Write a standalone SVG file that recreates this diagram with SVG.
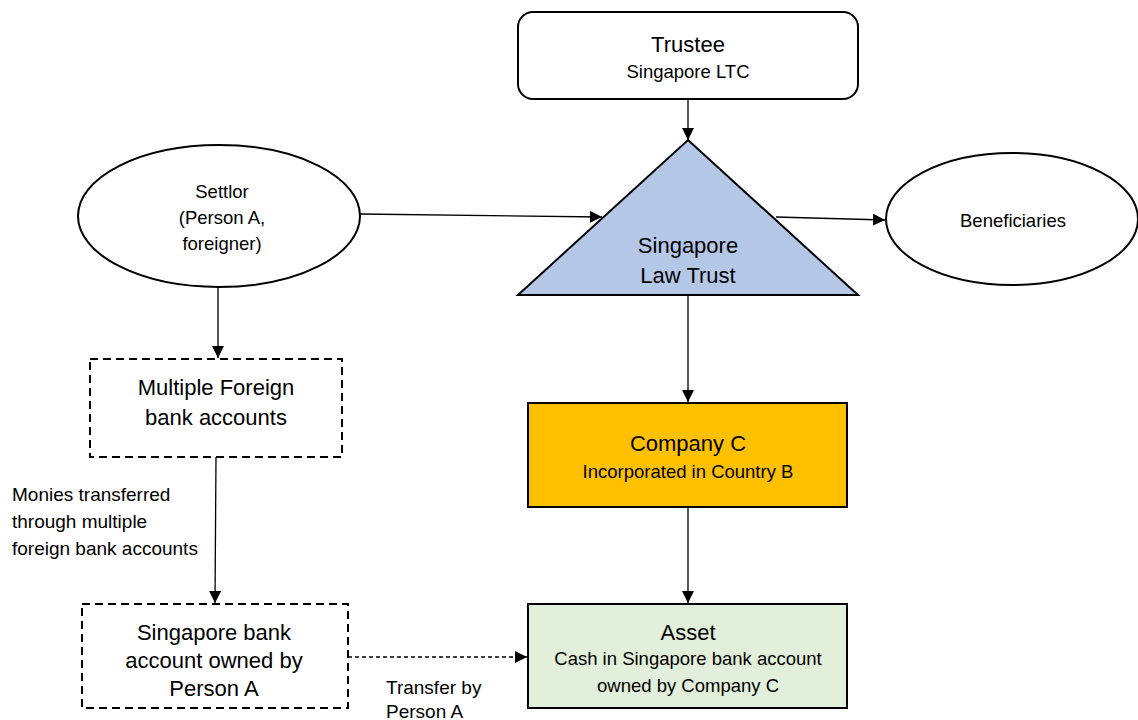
<svg xmlns="http://www.w3.org/2000/svg" width="1138" height="720" viewBox="0 0 1138 720">
<defs>
<marker id="ah" viewBox="0 0 10 10" refX="10" refY="5" markerWidth="12" markerHeight="12" markerUnits="userSpaceOnUse" orient="auto">
<path d="M0,0 L10,5 L0,10 z" fill="#000"/>
</marker>
<style>
text{font-family:"Liberation Sans",Arial,sans-serif;fill:#000;text-anchor:middle}
.big{font-size:22px}
.sm{font-size:18.5px}
.lbl{font-size:19px;text-anchor:start}
.node{stroke:#000;stroke-width:2}
.dash{fill:#fff;stroke:#000;stroke-width:2;stroke-dasharray:8 5}
.conn{stroke:#000;stroke-width:1.3;fill:none;marker-end:url(#ah)}
</style>
</defs>
<rect width="1138" height="720" fill="#fff"/>
<g id="connectors">
<line class="conn" x1="688" y1="99" x2="688" y2="140"/>
<line class="conn" x1="360" y1="214" x2="602" y2="217"/>
<line class="conn" x1="776" y1="217" x2="885" y2="220"/>
<line class="conn" x1="218" y1="287" x2="218" y2="358"/>
<line class="conn" x1="216" y1="457" x2="215" y2="603"/>
<line class="conn" x1="688" y1="295" x2="688" y2="402"/>
<line class="conn" x1="688" y1="507" x2="688" y2="603"/>
<line class="conn" x1="348" y1="657" x2="527" y2="657" stroke-dasharray="4 3"/>
</g>
<g id="trustee">
<rect class="node" x="518" y="12" width="340" height="87" rx="15" fill="#fff"/>
<text class="big" x="688" y="52">Trustee</text>
<text class="sm" x="688" y="78">Singapore LTC</text>
</g>
<g id="trust">
<polygon class="node" points="688,140 858,295 518,295" fill="#B4C7E7"/>
<text class="big" x="688" y="253">Singapore</text>
<text class="big" x="688" y="283">Law Trust</text>
</g>
<g id="settlor">
<ellipse class="node" cx="219" cy="216" rx="141" ry="71" fill="#fff"/>
<text class="sm" x="222" y="198">Settlor</text>
<text class="sm" x="222" y="224">(Person A,</text>
<text class="sm" x="222" y="250">foreigner)</text>
</g>
<g id="beneficiaries">
<ellipse class="node" cx="1012" cy="219" rx="126" ry="66" fill="#fff"/>
<text class="sm" x="1013" y="227">Beneficiaries</text>
</g>
<g id="foreign">
<rect class="dash" x="90" y="359" width="252" height="98"/>
<text class="big" x="216" y="395">Multiple Foreign</text>
<text class="big" x="216" y="425">bank accounts</text>
</g>
<g id="monies-label">
<text class="lbl" x="12" y="501">Monies transferred</text>
<text class="lbl" x="12" y="528">through multiple</text>
<text class="lbl" x="12" y="555">foreign bank accounts</text>
</g>
<g id="sgbank">
<rect class="dash" x="82" y="604" width="266" height="104"/>
<text class="big" x="214" y="640">Singapore bank</text>
<text class="big" x="214" y="668">account owned by</text>
<text class="big" x="214" y="696">Person A</text>
</g>
<g id="transfer-label">
<text class="lbl" x="386" y="694">Transfer  by</text>
<text class="lbl" x="386" y="718">Person A</text>
</g>
<g id="companyc">
<rect class="node" x="528" y="403" width="319" height="104" fill="#FFC000" stroke="#2b2410"/>
<text class="big" x="688" y="451">Company C</text>
<text class="sm" x="688" y="478">Incorporated in Country B</text>
</g>
<g id="asset">
<rect class="node" x="528" y="604" width="319" height="104" fill="#E2EFDA"/>
<text class="big" x="688" y="640">Asset</text>
<text class="sm" x="688" y="665">Cash in Singapore bank account</text>
<text class="sm" x="688" y="692">owned by Company C</text>
</g>
</svg>
